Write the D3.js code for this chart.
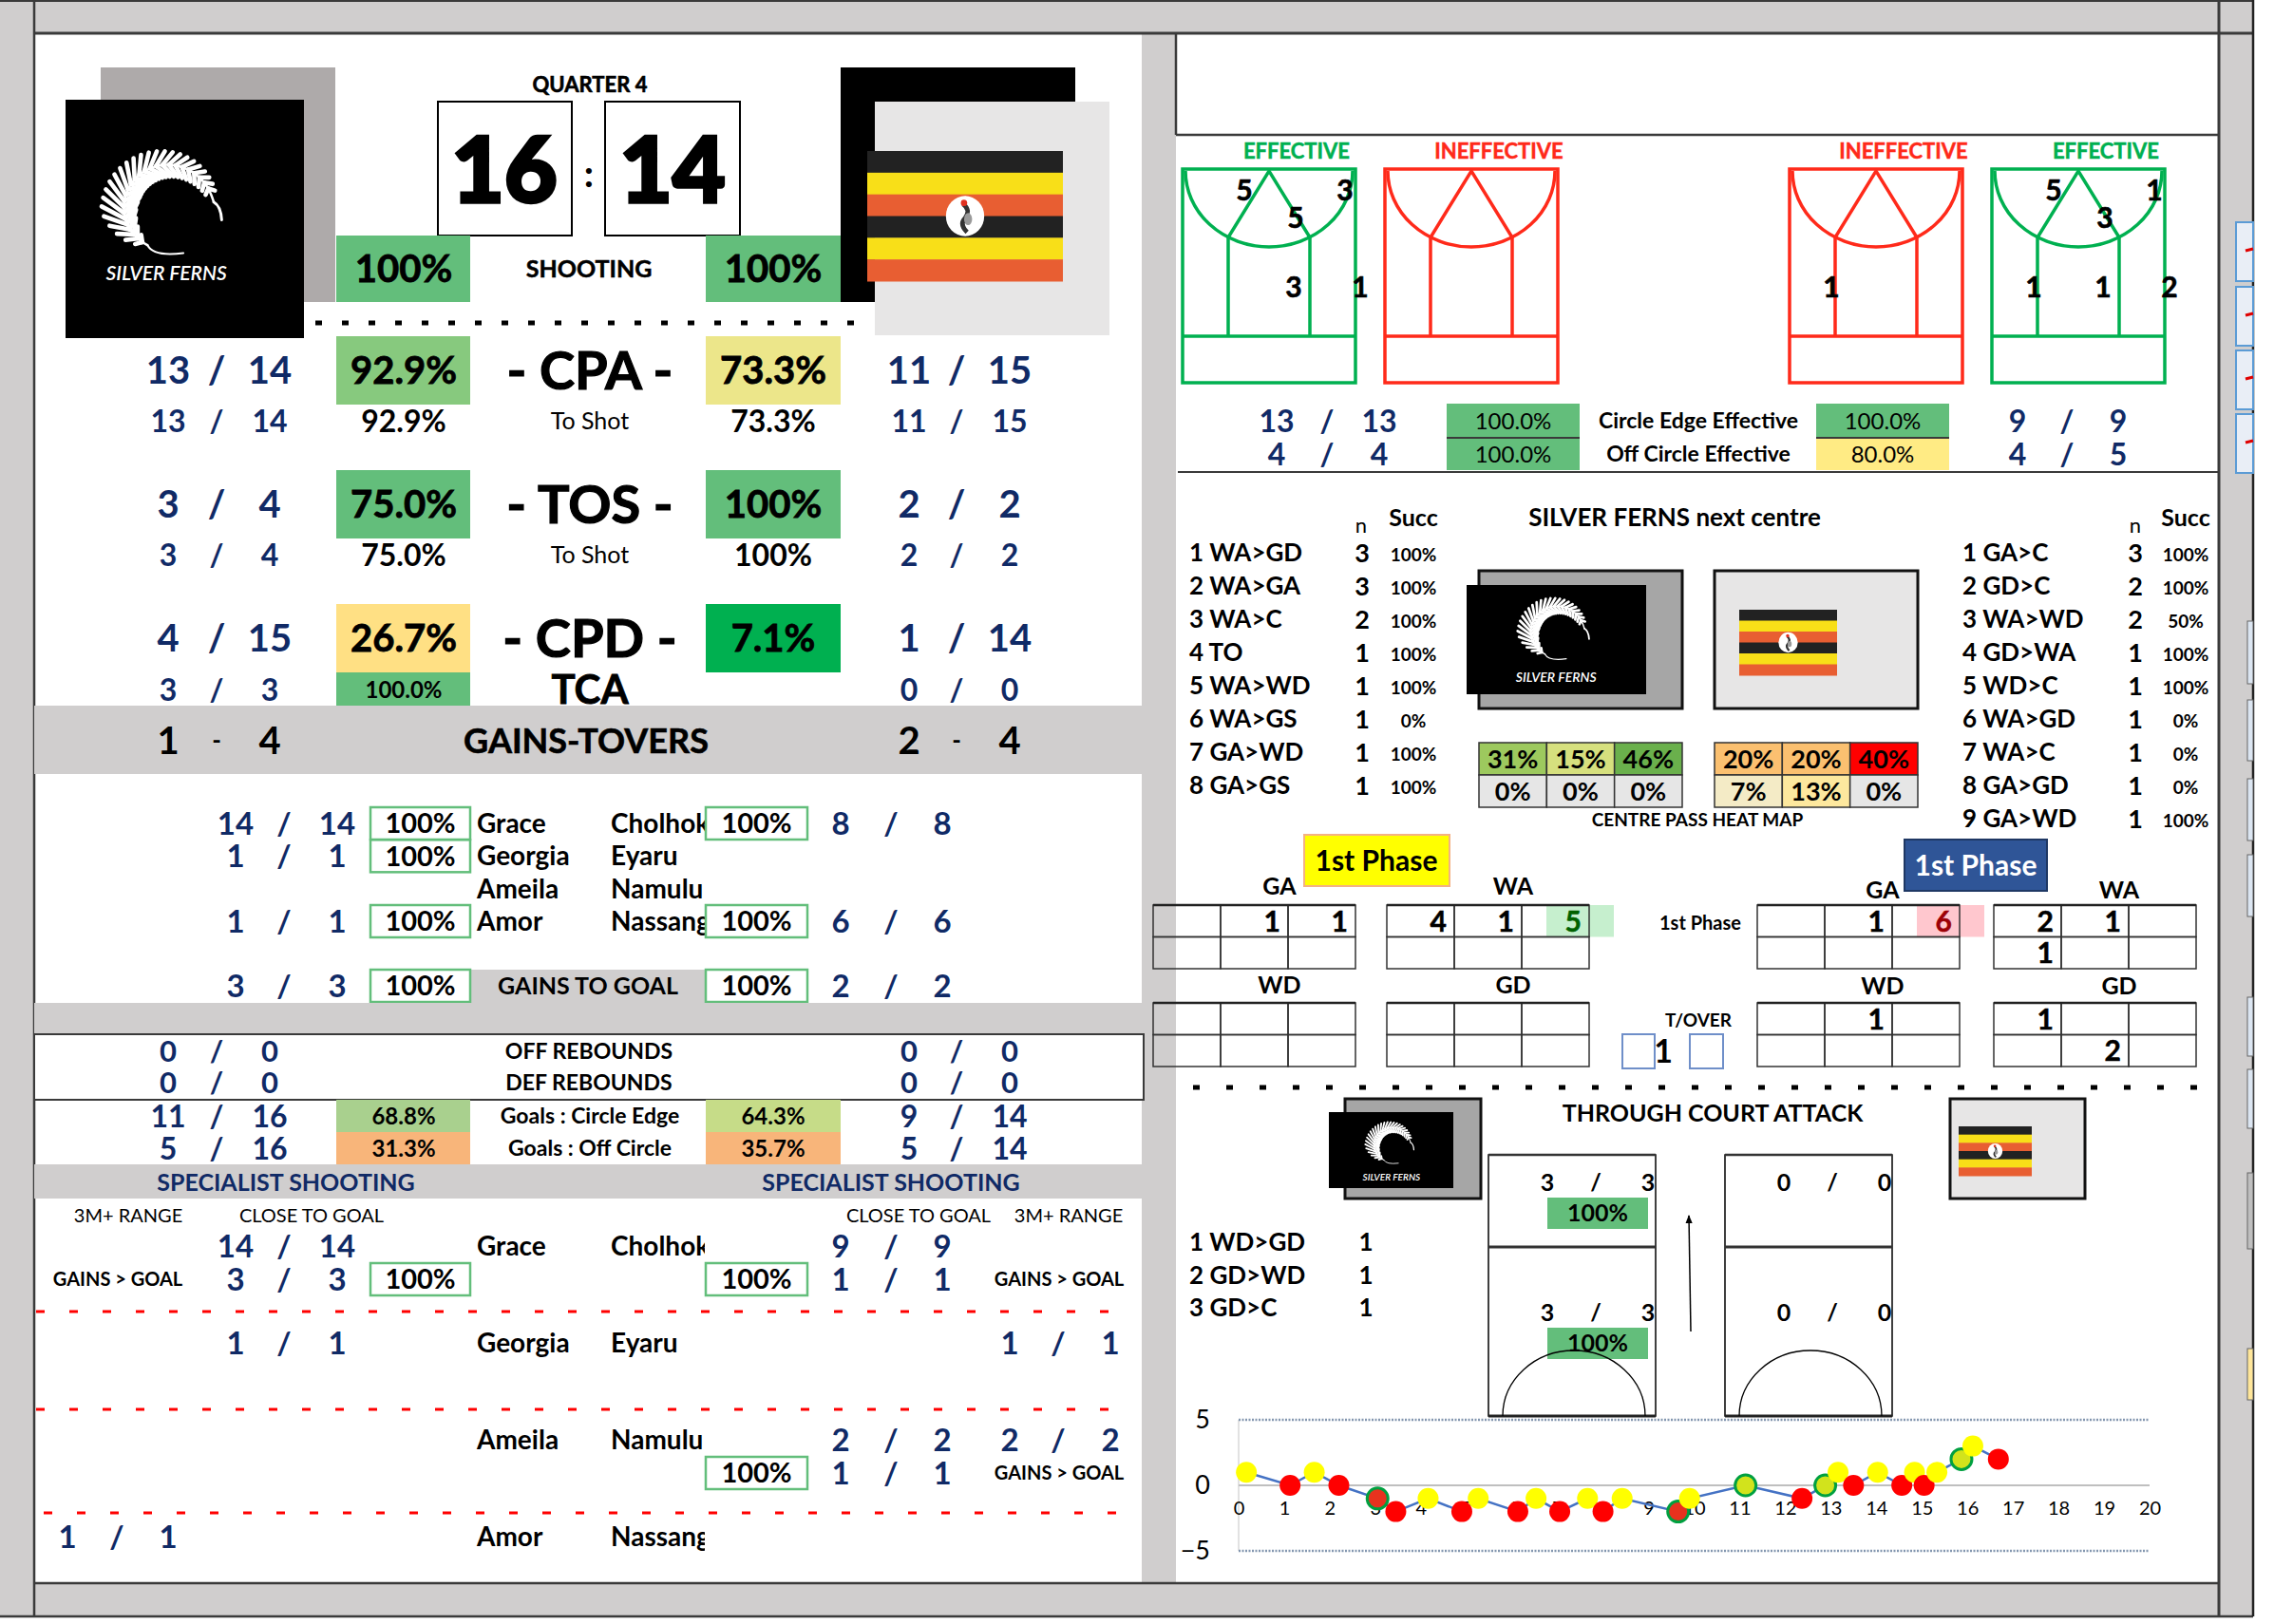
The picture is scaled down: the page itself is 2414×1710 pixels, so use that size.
<!DOCTYPE html>
<html>
<head>
<meta charset="utf-8">
<script src="https://cdn.jsdelivr.net/npm/d3@7"></script>
<style>
  html, body { margin: 0; padding: 0; background: #fff; }
  svg { display: block; }
</style>
</head>
<body>
<svg id="sheet"></svg>
<script>

// Match data
var quarterLabel = "QUARTER 4";
var scores = [16, 14];
var shootingPct = ["100%", "100%"];

var statLabels = ["- CPA -", "- TOS -", "- CPD -"];
var statHome = [[13, 14], [3, 4], [4, 15]];
var statAway = [[11, 15], [2, 2], [1, 14]];
var statHomePct = ["92.9%", "75.0%", "26.7%"];
var statAwayPct = ["73.3%", "100%", "7.1%"];
var subLabels = ["To Shot", "To Shot", "TCA"];
var subHome = [[13, 14], [3, 4], [3, 3]];
var subAway = [[11, 15], [2, 2], [0, 0]];
var subHomePct = ["92.9%", "75.0%", "100.0%"];
var subAwayPct = ["73.3%", "100%", ""];
var gainsTovers = [[1, 4], [2, 4]];

var homePlayers = ["Grace", "Georgia", "Ameila", "Amor"];
var awayPlayers = ["Cholhok", "Eyaru", "Namulu", "Nassang"];
var homeShots = [[14, 14], [1, 1], null, [1, 1]];
var awayShots = [[8, 8], null, null, [6, 6]];
var gainsToGoal = [[3, 3], [2, 2]];

var reboundLabels = ["OFF REBOUNDS", "DEF REBOUNDS"];
var reboundHome = [[0, 0], [0, 0]];
var reboundAway = [[0, 0], [0, 0]];

var goalLabels = ["Goals : Circle Edge", "Goals : Off Circle"];
var goalHome = [[11, 16], [5, 16]];
var goalAway = [[9, 14], [5, 14]];
var goalHomePct = ["68.8%", "31.3%"];
var goalAwayPct = ["64.3%", "35.7%"];

var homeClose = [[14, 14], [1, 1], null, null];
var homeRange = [null, null, null, [1, 1]];
var homeGainsGoal = [[3, 3], null, null, null];
var awayClose = [[9, 9], null, [2, 2], null];
var awayRange = [null, [1, 1], [2, 2], null];
var awayGainsGoal = [[1, 1], null, [1, 1], null];

var courtTitles = ["EFFECTIVE", "INEFFECTIVE", "INEFFECTIVE", "EFFECTIVE"];
var courtZones = [
  [["lt", 5], ["rt", 3], ["ct", 5], ["mc", 3], ["mr", 1]],
  [],
  [["ml", 1]],
  [["lt", 5], ["rt", 1], ["ct", 3], ["ml", 1], ["mc", 1], ["mr", 2]]
];
var edgeLabels = ["Circle Edge Effective", "Off Circle Effective"];
var edgeHome = [[13, 13], [4, 4]];
var edgeAway = [[9, 9], [4, 5]];
var edgeHomePct = ["100.0%", "100.0%"];
var edgeAwayPct = ["100.0%", "80.0%"];

var nextTitle = "SILVER FERNS next centre";
var homeNext = ["1 WA>GD", "2 WA>GA", "3 WA>C", "4 TO", "5 WA>WD", "6 WA>GS", "7 GA>WD", "8 GA>GS"];
var homeNextN = [3, 3, 2, 1, 1, 1, 1, 1];
var homeNextSucc = ["100%", "100%", "100%", "100%", "100%", "0%", "100%", "100%"];
var awayNext = ["1 GA>C", "2 GD>C", "3 WA>WD", "4 GD>WA", "5 WD>C", "6 WA>GD", "7 WA>C", "8 GA>GD", "9 GA>WD"];
var awayNextN = [3, 2, 2, 1, 1, 1, 1, 1, 1];
var awayNextSucc = ["100%", "100%", "50%", "100%", "100%", "0%", "0%", "0%", "100%"];
var homeHeat = [["31%", "15%", "46%"], ["0%", "0%", "0%"]];
var awayHeat = [["20%", "20%", "40%"], ["7%", "13%", "0%"]];

var gridNames = ["GA", "WA", "WD", "GD"];
var homeGrid = [
  [["", 1, 1], ["", "", ""]],
  [[4, 1, 5], ["", "", ""]],
  [["", "", ""], ["", "", ""]],
  [["", "", ""], ["", "", ""]]
];
var awayGrid = [
  [["", 1, 6], ["", "", ""]],
  [[2, 1, ""], [1, "", ""]],
  [["", 1, ""], ["", "", ""]],
  [[1, "", ""], ["", 2, ""]]
];
var turnovers = 1;

var tcaList = ["1 WD>GD", "2 GD>WD", "3 GD>C"];
var tcaN = [1, 1, 1];
var tcaHome = [[3, 3], [3, 3]];
var tcaHomePct = ["100%", "100%"];
var tcaAway = [[0, 0], [0, 0]];

// Momentum chart (goal difference through the quarter)
var momX = [0.17, 1.13, 1.66, 2.2, 3.05, 3.45, 4.16, 4.9, 5.26, 6.13, 6.53, 7.05, 7.66, 8.0, 8.42,
            9.65, 9.9, 11.13, 12.37, 12.88, 13.16, 13.5, 14.03, 14.56, 14.84, 15.05, 15.33, 15.87, 16.12, 16.68];
var momY = [1, 0, 1, 0, -1, -2, -1, -2, -1, -2, -1, -2, -1, -2, -1,
            -2, -1, 0, -1, 0, 1, 0, 1, 0, 1, 0, 1, 2, 3, 2];
var momKind = ["y", "r", "y", "r", "rg", "r", "y", "r", "y", "r", "y", "r", "y", "r", "y",
               "rg", "y", "g", "r", "g", "y", "r", "y", "r", "y", "r", "y", "g", "y", "r"];
var momXTicks = d3.range(0, 21);
var momYTicks = [-5, 0, 5];


// Styles
var FONT = "Lato, 'Noto Sans', sans-serif";
var NAVY = "#102a66";
var GREY = "#D0CECE";
var LINE = "#3a3a3a";
var GREEN = "#63BE7B";
var homeStatFill = ["#87C97E", "#63BE7B", "#FFE084"];
var awayStatFill = ["#ECE68A", "#63BE7B", "#00B050"];
var goalHomeFill = ["#A9D08E", "#F8B57A"];
var goalAwayFill = ["#C6DC88", "#F8B57A"];
var edgeAwayFill = [GREEN, "#FFEB84"];
var homeHeatFill = [["#9DC95E", "#D6E07E", "#6AB04C"], ["#E6E6E6", "#E6E6E6", "#E6E6E6"]];
var awayHeatFill = [["#FBC070", "#FBC070", "#FF0000"], ["#F4EBC6", "#FDE89E", "#E6E6E6"]];
var kindFill = { y: "#FFFF00", r: "#FF0000", rg: "#E8321E", g: "#D2E31C" };


var W = 2414, H = 1710;
var svg = d3.select("#sheet").attr("width", W).attr("height", H);

// Text helper, y is the visual middle of capitals
function T(g, x, y, s, o) {
  o = o || {};
  var size = o.size || 24;
  var t = g.append("text")
      .attr("x", x)
      .attr("y", y + size * 0.36)
      .attr("font-family", FONT)
      .attr("font-size", size)
      .attr("font-weight", o.w == null ? 700 : o.w)
      .attr("font-style", o.italic ? "italic" : null)
      .attr("fill", o.fill || "#000")
      .attr("text-anchor", o.a || "middle")
      .text(s);
  if (o.heavy) t.attr("stroke", o.fill || "#000").attr("stroke-width", o.heavy);
  return t;
}

function R(g, x, y, w, h, fill, stroke, sw) {
  return g.append("rect")
      .attr("x", x).attr("y", y).attr("width", w).attr("height", h)
      .attr("fill", fill || "none")
      .attr("stroke", stroke || "none")
      .attr("stroke-width", sw || 0);
}

function L(g, x1, y1, x2, y2, col, sw, dash) {
  return g.append("line")
      .attr("x1", x1).attr("y1", y1).attr("x2", x2).attr("y2", y2)
      .attr("stroke", col || LINE)
      .attr("stroke-width", sw || 2)
      .attr("stroke-dasharray", dash || null);
}

// "a / b" over three column centres
function frac(g, cols, y, v, size, fill) {
  if (!v) return;
  T(g, cols[0], y, v[0], {size: size, fill: fill || NAVY});
  T(g, cols[1], y, "/", {size: size, fill: fill || NAVY});
  T(g, cols[2], y, v[1], {size: size, fill: fill || NAVY});
}

// Stylised silver fern: a curled frond with leaflets both sides of the stem
function fern(g, cx, cy, r, label, labelY, labelSize) {
  var f = g.append("g").attr("stroke", "#fff").attr("fill", "none").attr("stroke-linecap", "round");
  var d2r = Math.PI / 180;
  var a0 = 115, a1 = 352, n = 28;
  var pts = d3.range(n + 1).map(function(i) {
    var t = i / n;
    var a = (a0 + (a1 - a0) * t) * d2r;
    var rr = r * (1 + 0.25 * t * t);
    return {x: cx + rr * Math.cos(a), y: cy + rr * Math.sin(a), a: a, t: t};
  });
  var p0 = pts[0];
  f.append("path")
      .attr("d", "M" + p0.x + "," + p0.y + " Q" + (p0.x + r * 0.15) + "," + (p0.y + r * 0.3) + " " + (p0.x + r * 0.9) + "," + (p0.y + r * 0.2))
      .attr("stroke-width", r * 0.05);
  f.append("path")
      .attr("d", d3.line().curve(d3.curveBasis).x(function(d) { return d.x; }).y(function(d) { return d.y; })(pts))
      .attr("stroke-width", r * 0.06);
  // tip curls down
  var pe = pts[n];
  f.append("path")
      .attr("d", "M" + pe.x + "," + pe.y + " q" + (r * 0.18) + "," + (r * 0.1) + " " + (r * 0.2) + "," + (r * 0.45))
      .attr("stroke-width", r * 0.07);
  pts.forEach(function(p, i) {
    if (i == 0 || i >= n - 1) return;
    var len = r * 0.72 * Math.min(1, p.t * 5) * Math.pow(1 - p.t, 0.7) + r * 0.06;
    [42, 138].forEach(function(rot) {
      var a = p.a + rot * d2r;
      f.append("line")
          .attr("x1", p.x).attr("y1", p.y)
          .attr("x2", p.x + len * Math.cos(a)).attr("y2", p.y + len * Math.sin(a))
          .attr("stroke-width", r * 0.11);
    });
  });
  if (label) T(g, cx + r * 0.05, labelY, label, {size: labelSize, fill: "#fff", italic: true, w: 600});
}

// Uganda flag
function flag(g, x, y, w, h) {
  var cols = ["#222", "#F8DF18", "#E85E32", "#222", "#F8DF18", "#E85E32"];
  var band = d3.scaleBand().domain(d3.range(6)).range([y, y + h]);
  cols.forEach(function(c, i) {
    R(g, x, band(i), w, band.bandwidth() + 0.5, c);
  });
  var cx = x + w / 2, cy = y + h / 2, rr = h * 0.155;
  g.append("ellipse").attr("cx", cx).attr("cy", cy).attr("rx", rr * 0.95).attr("ry", rr).attr("fill", "#fff");
  g.append("path")
      .attr("d", "M" + (cx - rr * 0.1) + "," + (cy - rr * 0.6) + " q" + (rr * 0.4) + "," + (rr * 0.3) + " " + (rr * 0.1) + "," + (rr * 0.7) +
                 " q" + (-rr * 0.3) + "," + (rr * 0.3) + " " + (rr * 0.1) + "," + (rr * 0.7))
      .attr("fill", "none").attr("stroke", "#333").attr("stroke-width", rr * 0.22);
  g.append("circle").attr("cx", cx - rr * 0.05).attr("cy", cy - rr * 0.65).attr("r", rr * 0.16).attr("fill", "#E03020");
  g.append("ellipse").attr("cx", cx + rr * 0.15).attr("cy", cy + rr * 0.15).attr("rx", rr * 0.2).attr("ry", rr * 0.3).attr("fill", "#999");
}


// ---------- frame ----------
R(svg, 0, 0, W, H, "#fff");
R(svg, 0, 0, 2372, 35, GREY);
R(svg, 0, 1667, 2372, 35, GREY);
R(svg, 0, 0, 36, 1702, GREY);
R(svg, 1202, 35, 36, 1632, GREY);
R(svg, 2337, 0, 35, 1702, GREY);
L(svg, 0, 1, 2372, 1, LINE, 2);
L(svg, 36, 35, 2372, 35, LINE, 3);
L(svg, 36, 0, 36, 1702, LINE, 2.5);
L(svg, 36, 1667, 2337, 1667, LINE, 2.5);
L(svg, 0, 1702, 2372, 1702, LINE, 2.5);
L(svg, 2336, 0, 2336, 1702, LINE, 3);
L(svg, 2372, 0, 2372, 1702, "#222", 2.5);

// cut-off boxes at the far right
[234, 302, 369, 436].forEach(function(y) {
  R(svg, 2354, y, 18, 62, "#E9EEF6", "#5B9BD5", 2);
  L(svg, 2364, y + 30, 2372, y + 28, "#E00000", 3);
});
[[654, 66, "#DCE6F2"], [737, 64, "#DCE6F2"], [820, 65, "#DCE6F2"], [900, 65, "#DCE6F2"],
 [1050, 62, "#DCE6F2"], [1126, 62, "#DCE6F2"], [1235, 80, "#BFBFBF"], [1420, 54, "#FFE699"]].forEach(function(b) {
  R(svg, 2366, b[0], 6, b[1], b[2], "#666", 1);
});


// ---------- left panel: header ----------
var left = svg.append("g");

R(left, 106, 71, 247, 247, "#AEAAAA");
R(left, 69, 105, 251, 251, "#000");
fern(left, 173, 220, 42, "SILVER FERNS", 287, 21);

T(left, 621, 89, quarterLabel, {size: 22, heavy: 0.6});
R(left, 461, 107, 141, 141, "#fff", "#000", 2);
R(left, 637, 107, 142, 141, "#fff", "#000", 2);
T(left, 531, 178, scores[0], {size: 96, w: 900, heavy: 3.5});
T(left, 708, 178, scores[1], {size: 96, w: 900, heavy: 3.5});
T(left, 620, 183, ":", {size: 40});

R(left, 354, 248, 141, 70, GREEN);
R(left, 743, 248, 142, 70, GREEN);
T(left, 425, 283, shootingPct[0], {size: 40, heavy: 0.8});
T(left, 814, 283, shootingPct[1], {size: 40, heavy: 0.8});
T(left, 620, 283, "SHOOTING", {size: 25, heavy: 0.5});

R(left, 885, 71, 247, 247, "#000");
R(left, 921, 107, 247, 246, "#E7E6E6");
flag(left, 913, 159, 206, 137);

L(left, 332, 340, 910, 340, "#000", 5, "7 21");

// ---------- left panel: CPA / TOS / CPD ----------
var colL = [177, 228, 284], colR = [957, 1007, 1063];
var statY = d3.scaleLinear().domain([0, 2]).range([390, 672]);

statLabels.forEach(function(lab, i) {
  var y = statY(i);
  R(left, 354, y - 36, 141, 72, homeStatFill[i]);
  R(left, 743, y - 36, 142, 72, awayStatFill[i]);
  frac(left, colL, y, statHome[i], 40);
  frac(left, colR, y, statAway[i], 40);
  T(left, 425, y, statHomePct[i], {size: 40, heavy: 0.8});
  T(left, 814, y, statAwayPct[i], {size: 40, heavy: 0.8});
  T(left, 621, y, lab, {size: 56, heavy: 1.2});

  var ys = y + (i == 2 ? 54 : 53);
  frac(left, colL, ys, subHome[i], 32);
  frac(left, colR, ys, subAway[i], 32);
  if (i == 2) {
    R(left, 354, 708, 141, 35, GREEN);
    T(left, 425, ys, subHomePct[i], {size: 24});
    T(left, 621, ys, subLabels[i], {size: 42, heavy: 0.8});
  } else {
    T(left, 425, ys, subHomePct[i], {size: 32});
    T(left, 814, ys, subAwayPct[i], {size: 32});
    T(left, 621, ys, subLabels[i], {size: 25, w: 400});
  }
});

R(left, 36, 743, 1166, 72, GREY);
T(left, colL[0], 780, gainsTovers[0][0], {size: 40});
T(left, colL[1], 780, "-", {size: 26});
T(left, colL[2], 780, gainsTovers[0][1], {size: 40});
T(left, 617, 780, "GAINS-TOVERS", {size: 36, heavy: 0.6});
T(left, colR[0], 780, gainsTovers[1][0], {size: 40});
T(left, colR[1], 780, "-", {size: 26});
T(left, colR[2], 780, gainsTovers[1][1], {size: 40});

// ---------- left panel: shooters ----------
var pColL = [248, 299, 355], pColR = [885, 938, 992], pColR2 = [1063, 1114, 1169], pColL2 = [71, 123, 177];
var clip = svg.append("defs").append("clipPath").attr("id", "nameclip");
clip.append("rect").attr("x", 600).attr("y", 0).attr("width", 142).attr("height", H);

function pctBox(g, x, y, w, s) {
  R(g, x, y - 17, w, 34, "#fff", GREEN, 2.5);
  T(g, x + w / 2, y, s, {size: 29});
}

var playerY = d3.scaleLinear().domain([0, 3]).range([867, 970]);
homePlayers.forEach(function(name, i) {
  var y = playerY(i);
  T(left, 502, y, name, {size: 28, a: "start"});
  T(left, 643, y, awayPlayers[i], {size: 28, a: "start"}).attr("clip-path", "url(#nameclip)");
  if (homeShots[i]) {
    frac(left, pColL, y, homeShots[i], 33);
    pctBox(left, 390, y, 105, "100%");
  }
  if (awayShots[i]) {
    frac(left, pColR, y, awayShots[i], 33);
    pctBox(left, 743, y, 107, "100%");
  }
});

R(left, 495, 1021, 248, 35, GREY);
T(left, 619, 1038, "GAINS TO GOAL", {size: 25});
frac(left, pColL, 1038, gainsToGoal[0], 33);
frac(left, pColR, 1038, gainsToGoal[1], 33);
pctBox(left, 390, 1038, 105, "100%");
pctBox(left, 743, 1038, 107, "100%");

R(left, 36, 1056, 1166, 33, GREY);
R(left, 36, 1089, 1168, 69, "#fff", LINE, 2);
reboundLabels.forEach(function(lab, i) {
  var y = 1107 + i * 33;
  frac(left, colL, y, reboundHome[i], 31);
  frac(left, colR, y, reboundAway[i], 31);
  T(left, 620, y, lab, {size: 23});
});

goalLabels.forEach(function(lab, i) {
  var y = 1175 + i * 34;
  R(left, 354, y - 17, 141, 34, goalHomeFill[i]);
  R(left, 743, y - 17, 142, 34, goalAwayFill[i]);
  frac(left, colL, y, goalHome[i], 32);
  frac(left, colR, y, goalAway[i], 32);
  T(left, 425, y, goalHomePct[i], {size: 24});
  T(left, 814, y, goalAwayPct[i], {size: 24});
  T(left, 621, y, lab, {size: 23});
});

// ---------- left panel: specialist shooting ----------
R(left, 36, 1226, 1166, 36, GREY);
T(left, 301, 1245, "SPECIALIST SHOOTING", {size: 25, fill: NAVY});
T(left, 938, 1245, "SPECIALIST SHOOTING", {size: 25, fill: NAVY});
T(left, 135, 1280, "3M+ RANGE", {size: 20, w: 400});
T(left, 328, 1280, "CLOSE TO GOAL", {size: 20, w: 400});
T(left, 967, 1280, "CLOSE TO GOAL", {size: 20, w: 400});
T(left, 1125, 1280, "3M+ RANGE", {size: 20, w: 400});

var specY = d3.scaleLinear().domain([0, 3]).range([1312, 1618]);
homePlayers.forEach(function(name, i) {
  var y = specY(i);
  T(left, 502, y, name, {size: 28, a: "start"});
  T(left, 643, y, awayPlayers[i], {size: 28, a: "start"}).attr("clip-path", "url(#nameclip)");
  frac(left, pColL, y, homeClose[i], 33);
  frac(left, pColL2, y, homeRange[i], 33);
  frac(left, pColR, y, awayClose[i], 33);
  frac(left, pColR2, y, awayRange[i], 33);
  if (homeGainsGoal[i]) {
    frac(left, pColL, y + 35, homeGainsGoal[i], 33);
    pctBox(left, 390, y + 35, 105, "100%");
    T(left, 124, y + 35, "GAINS > GOAL", {size: 20});
  }
  if (awayGainsGoal[i]) {
    frac(left, pColR, y + 35, awayGainsGoal[i], 33);
    pctBox(left, 743, y + 35, 107, "100%");
    T(left, 1115, y + 35, "GAINS > GOAL", {size: 20});
  }
});
L(left, 38, 1381, 1190, 1381, "#FF0000", 3, "9 26");
L(left, 38, 1484, 1190, 1484, "#FF0000", 3, "9 26");
L(left, 46, 1593, 1198, 1593, "#FF0000", 3, "9 26");


// ---------- right panel: circle diagrams ----------
var right = svg.append("g");
L(right, 1238, 35, 1238, 142, LINE, 2.5);
L(right, 1238, 142, 2337, 142, LINE, 2.5);

var courtX = [1245, 1458, 1884, 2097];
var zonePos = { lt: [65, 200], rt: [171, 200], ct: [119, 229], ml: [44, 302], mc: [117, 302], mr: [187, 302] };

function court(g, x0, col) {
  var w = 182, top = 180, mid = 354, vy = 250;
  var cx = x0 + w / 2;
  var c = g.append("g").attr("fill", "none").attr("stroke", col).attr("stroke-width", 3.5);
  c.append("rect").attr("x", x0).attr("y", 178).attr("width", w).attr("height", 225);
  c.append("path").attr("d", "M" + (x0 + 3) + "," + top + " A" + (w / 2 - 3) + ",80 0 0 0 " + (x0 + w - 3) + "," + top);
  c.append("path").attr("d", "M" + (x0 + 48) + "," + mid + " V" + vy + " L" + cx + "," + top + " L" + (x0 + 134) + "," + vy + " V" + mid);
  c.append("line").attr("x1", x0).attr("x2", x0 + w).attr("y1", mid).attr("y2", mid);
}

courtTitles.forEach(function(title, i) {
  var col = title == "EFFECTIVE" ? "#00B050" : "#FF2A1A";
  T(right, courtX[i] + 120, 159, title, {size: 22, fill: col, heavy: 0.5});
  court(right, courtX[i], col);
  courtZones[i].forEach(function(z) {
    var p = zonePos[z[0]];
    T(right, courtX[i] + p[0], p[1], z[1], {size: 30, heavy: 0.6});
  });
});

var eColL = [1344, 1397, 1452], eColR = [2124, 2176, 2230];
edgeLabels.forEach(function(lab, i) {
  var y = 443 + i * 35;
  R(right, 1523, y - 18, 140, 35, GREEN);
  R(right, 1912, y - 18, 140, 35, edgeAwayFill[i]);
  frac(right, eColL, y, edgeHome[i], 32);
  frac(right, eColR, y, edgeAway[i], 32);
  T(right, 1593, y, edgeHomePct[i], {size: 24, w: 400});
  T(right, 1982, y, edgeAwayPct[i], {size: 24, w: 400});
  T(right, 1788, y, lab, {size: 23});
});
L(right, 1523, 461, 1663, 461, LINE, 2);
L(right, 1912, 461, 2052, 461, LINE, 2);
L(right, 1240, 497, 2337, 497, LINE, 2);

// ---------- right panel: next centre ----------
T(right, 1433, 553, "n", {size: 22, w: 400});
T(right, 1488, 545, "Succ", {size: 25});
T(right, 2248, 553, "n", {size: 22, w: 400});
T(right, 2301, 545, "Succ", {size: 25});
T(right, 1763, 545, nextTitle, {size: 26});

var nextY = d3.scaleLinear().domain([0, 8]).range([582, 862]);
homeNext.forEach(function(s, i) {
  T(right, 1252, nextY(i), s, {size: 26, a: "start"});
  T(right, 1434, nextY(i), homeNextN[i], {size: 27});
  T(right, 1488, nextY(i) + 2, homeNextSucc[i], {size: 19});
});
awayNext.forEach(function(s, i) {
  T(right, 2066, nextY(i), s, {size: 26, a: "start"});
  T(right, 2248, nextY(i), awayNextN[i], {size: 27});
  T(right, 2301, nextY(i) + 2, awayNextSucc[i], {size: 19});
});

R(right, 1557, 601, 214, 145, "#A6A6A6", "#111", 3);
R(right, 1544, 616, 189, 115, "#000");
fern(right, 1637, 666, 25, "SILVER FERNS", 713, 14);
R(right, 1805, 601, 214, 145, "#E7E6E6", "#111", 3);
flag(right, 1831, 642, 103, 69);

function heat(g, x0, vals, fills) {
  var cx = d3.scaleBand().domain([0, 1, 2]).range([x0, x0 + 214]);
  var cy = d3.scaleBand().domain([0, 1]).range([782, 850]);
  vals.forEach(function(row, r) {
    row.forEach(function(v, c) {
      R(g, cx(c), cy(r), cx.bandwidth(), cy.bandwidth(), fills[r][c], "#333", 1.5);
      T(g, cx(c) + cx.bandwidth() / 2, cy(r) + cy.bandwidth() / 2, v, {size: 27});
    });
  });
}
heat(right, 1557, homeHeat, homeHeatFill);
heat(right, 1805, awayHeat, awayHeatFill);
T(right, 1787, 863, "CENTRE PASS HEAT MAP", {size: 19});

// ---------- right panel: phase grids ----------
R(right, 1373, 879, 153, 54, "#FFFF00", "#F4B183", 2);
T(right, 1449, 906, "1st Phase", {size: 30});
R(right, 2005, 884, 150, 54, "#2F5597", "#1F3864", 2);
T(right, 2080, 911, "1st Phase", {size: 30, fill: "#fff"});

var gridX = [[1214, 1460, 1214, 1460], [1850, 2099, 1850, 2099]];
var gridY = [953, 953, 1056, 1056];
var labelY = [[933, 933, 1037, 1037], [937, 937, 1038, 1038]];

function grid(g, x0, y0, vals, hi) {
  var cx = d3.scaleBand().domain([0, 1, 2]).range([x0, x0 + 213]);
  var cy = d3.scaleBand().domain([0, 1]).range([y0, y0 + 67]);
  if (hi) R(g, cx(2) + 26, y0, cx.bandwidth(), cy.bandwidth(), hi.bg);
  vals.forEach(function(row, r) {
    row.forEach(function(v, c) {
      R(g, cx(c), cy(r), cx.bandwidth(), cy.bandwidth(), "none", "#333", 1.5);
      var col = (hi && r == 0 && c == 2) ? hi.fg : "#000";
      T(g, cx(c) + cx.bandwidth() - 8, cy(r) + cy.bandwidth() / 2, v, {size: 30, a: "end", fill: col, heavy: 0.5});
    });
  });
  L(g, x0, y0, x0 + 213, y0, "#222", 2.5);
}

gridNames.forEach(function(name, i) {
  grid(right, gridX[0][i], gridY[i], homeGrid[i], i == 1 ? {bg: "#C6EFCE", fg: "#006100"} : null);
  grid(right, gridX[1][i], gridY[i], awayGrid[i], i == 0 ? {bg: "#FFC7CE", fg: "#9C0006"} : null);
  T(right, gridX[0][i] + 133, labelY[0][i], name, {size: 25});
  T(right, gridX[1][i] + 132, labelY[1][i], name, {size: 25});
});
T(right, 1790, 972, "1st Phase", {size: 20});
T(right, 1788, 1074, "T/OVER", {size: 19});
R(right, 1708, 1089, 34, 36, "#fff", "#6F8FC9", 2);
R(right, 1779, 1089, 35, 36, "#fff", "#6F8FC9", 2);
T(right, 1751, 1107, turnovers, {size: 34});

L(right, 1256, 1145, 2325, 1145, "#000", 5, "7 28");

// ---------- right panel: through court attack ----------
T(right, 1803, 1172, "THROUGH COURT ATTACK", {size: 25});
R(right, 1416, 1157, 143, 105, "#A6A6A6", "#111", 3);
R(right, 1399, 1171, 131, 80, "#000");
fern(right, 1464, 1206, 17, "SILVER FERNS", 1239, 10);
R(right, 2053, 1157, 142, 105, "#E7E6E6", "#111", 3);
flag(right, 2062, 1186, 77, 52);

tcaList.forEach(function(s, i) {
  var y = 1308 + i * 34.5;
  T(right, 1252, y, s, {size: 26, a: "start"});
  T(right, 1438, y, tcaN[i], {size: 26});
});

function tcaCourt(g, x0, vals, pcts) {
  var w = 176;
  R(g, x0, 1216, w, 275, "#fff", "#000", 1.5);
  L(g, x0, 1216, x0 + w, 1216, "#333", 2.5);
  L(g, x0, 1313, x0 + w, 1313, "#333", 3);
  L(g, x0, 1491, x0 + w, 1491, "#222", 3);
  var cols = [x0 + 62, x0 + 113, x0 + 168];
  vals.forEach(function(v, i) {
    var y = i == 0 ? 1245 : 1382;
    if (pcts) {
      R(g, x0 + 62, y + 16, 106, 33, GREEN);
      T(g, x0 + 115, y + 32, pcts[i], {size: 25});
    }
    frac(g, cols, y, v, 25, "#000");
  });
  var cx = x0 + 90;
  g.append("path")
      .attr("d", "M" + (cx - 75) + ",1491 A75,69 0 0 1 " + (cx + 75) + ",1491")
      .attr("fill", "none").attr("stroke", "#000").attr("stroke-width", 1.3);
}
tcaCourt(right, 1567, tcaHome, tcaHomePct);
tcaCourt(right, 1816, tcaAway, null);

svg.append("defs").append("marker")
    .attr("id", "arrow").attr("viewBox", "0 0 10 10").attr("refX", 9).attr("refY", 5)
    .attr("markerWidth", 6).attr("markerHeight", 8).attr("orient", "auto")
  .append("path").attr("d", "M0,1 L10,5 L0,9 Z").attr("fill", "#000");
L(right, 1780, 1402, 1778, 1280, "#000", 1.5).attr("marker-end", "url(#arrow)");


// ---------- momentum chart ----------
var x = d3.scaleLinear().domain([0, 20]).range([1304, 2263]);
var y = d3.scaleLinear().domain([-5, 5]).range([1633, 1495]);
var chart = svg.append("g");

L(chart, x(0), y(5), x(0), y(-5), "#D9D9D9", 1.5);
[5, -5].forEach(function(v) {
  L(chart, x(0), y(v), x(20), y(v), "#8497B0", 2.5, "2 1.5");
});
L(chart, x(0), y(0), x(20), y(0), "#BFBFBF", 2);

var xAxis = d3.axisBottom(x).tickValues(momXTicks).tickSize(0).tickPadding(17);
var yAxis = d3.axisLeft(y).tickValues(momYTicks).tickSize(0).tickPadding(30);

chart.append("g")
    .attr("transform", "translate(0," + y(0) + ")")
    .call(xAxis)
    .call(function(g) { g.select(".domain").remove(); })
    .selectAll("text")
      .attr("font-family", FONT).attr("font-size", 20).attr("fill", "#000");

chart.append("g")
    .attr("transform", "translate(" + x(0) + ",0)")
    .call(yAxis)
    .call(function(g) { g.select(".domain").remove(); })
    .selectAll("text")
      .attr("font-family", FONT).attr("font-size", 27).attr("fill", "#000");

var momData = momX.map(function(v, i) { return {x: v, y: momY[i], k: momKind[i]}; });

chart.append("path")
    .datum(momData)
    .attr("fill", "none")
    .attr("stroke", "#4472C4")
    .attr("stroke-width", 2.5)
    .attr("d", d3.line().x(function(d) { return x(d.x); }).y(function(d) { return y(d.y); }));

chart.selectAll("circle.pt")
    .data(momData)
  .enter().append("circle")
    .attr("class", "pt")
    .attr("cx", function(d) { return x(d.x); })
    .attr("cy", function(d) { return y(d.y); })
    .attr("r", 11)
    .attr("fill", function(d) { return kindFill[d.k]; })
    .attr("stroke", function(d) { return d.k == "rg" || d.k == "g" ? "#00A040" : "none"; })
    .attr("stroke-width", 3);

</script>
</body>
</html>
